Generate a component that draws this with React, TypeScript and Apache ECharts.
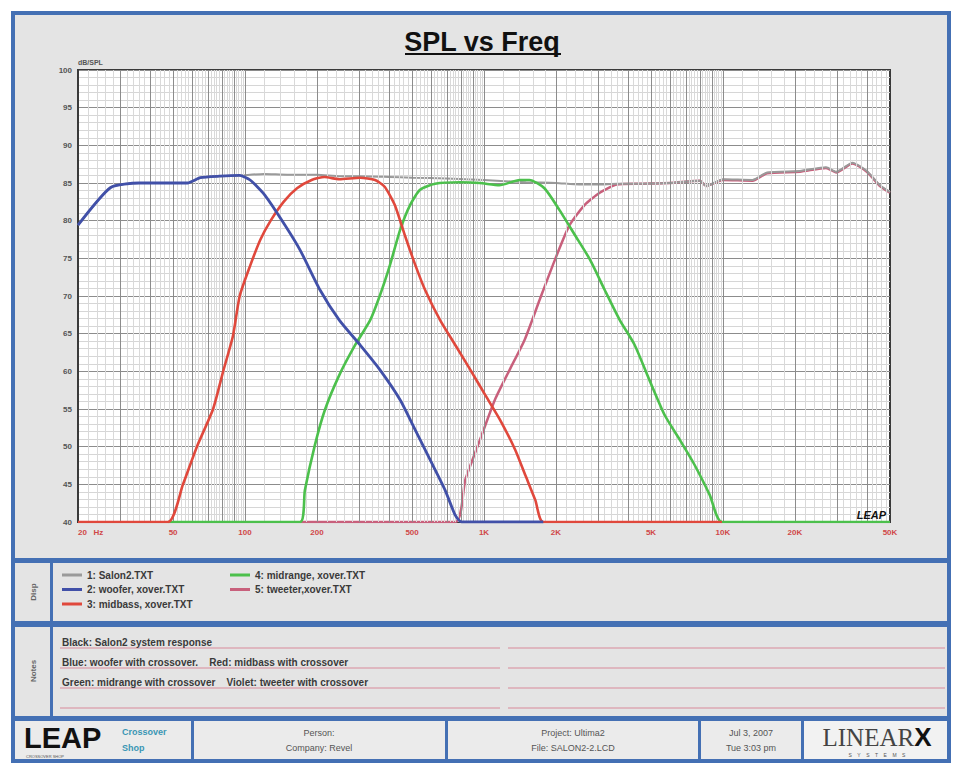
import React, { useEffect, useRef } from 'react';
import * as echarts from 'echarts';

// ---------- data ----------
const X_MIN = 20;
const X_MAX = 50000;
const Y_MIN = 40;
const Y_MAX = 100;
const X_LABEL_VALUES = [20, 50, 100, 200, 500, 1000, 2000, 5000, 10000, 20000, 50000];
const X_LABEL_TEXTS = ['20   Hz', '50', '100', '200', '500', '1K', '2K', '5K', '10K', '20K', '50K'];

const NAMES = ['1: Salon2.TXT', '2: woofer, xover.TXT', '3: midbass, xover.TXT', '4: midrange, xover.TXT', '5: tweeter,xover.TXT'];
const COLORS = ['#9a9a9a', '#4150a8', '#e0483c', '#4cc04c', '#c8607c'];

const SYS_F = [20, 27.4, 36, 57.5, 65, 78, 95, 120, 150, 200, 250, 300, 400, 500, 700, 1000, 1500, 2000, 2500, 3000, 3600, 4500, 6000, 8000, 8500, 10000, 13300, 15300, 21000, 27000, 29800, 34800, 40000, 45400, 50000];
const SYS_DB = [79.4, 84.4, 85.0, 85.0, 85.7, 85.9, 86.0, 86.2, 86.1, 86.1, 85.9, 85.9, 85.8, 85.7, 85.6, 85.4, 85.1, 85.0, 84.8, 84.8, 84.9, 84.9, 85.0, 85.3, 84.6, 85.5, 85.4, 86.4, 86.6, 87.1, 86.5, 87.7, 86.6, 84.7, 83.8];

const WOOF_F = [20, 27.4, 36, 57.5, 65, 78, 95, 105, 121, 147, 170, 206, 248, 303, 367, 446, 516, 596, 688, 758, 805, 1770];
const WOOF_DB = [79.4, 84.4, 85.0, 85.0, 85.7, 85.9, 86.0, 85.4, 83.4, 79.4, 76.1, 70.8, 66.8, 63.5, 60.2, 56.2, 52.2, 48.2, 44.2, 40.9, 40, 40];

const MIDB_F = [20, 47.6, 55, 62.9, 73.5, 81, 89, 95, 105, 116, 128, 145, 165, 190, 215, 248, 303, 350, 384, 423, 466, 516, 567, 655, 758, 877, 1010, 1170, 1350, 1490, 1640, 1770, 9900];
const MIDB_DB = [40, 40, 45.0, 50.0, 55.0, 60.0, 64.7, 70.0, 74.0, 77.5, 80.0, 82.5, 84.3, 85.4, 85.8, 85.5, 85.7, 85.4, 84.5, 82.1, 78.1, 74.1, 70.8, 66.8, 63.5, 60.2, 56.9, 53.5, 49.6, 46.2, 42.9, 40, 40];

const MIDR_F = [47.6, 170, 178, 196, 216, 248, 289, 334, 367, 404, 446, 491, 540, 624, 794, 960, 1160, 1410, 1550, 1790, 2070, 2400, 2780, 3200, 3700, 4270, 4930, 5700, 6600, 7600, 8800, 9900, 50000];
const MIDR_DB = [40, 40, 44.2, 50.2, 54.9, 59.5, 63.5, 66.8, 70.1, 74.1, 78.8, 82.1, 84.1, 84.9, 85.1, 85.0, 84.7, 85.4, 85.4, 84.3, 81.4, 78.1, 74.8, 70.8, 66.8, 63.5, 58.8, 54.2, 50.9, 47.6, 43.6, 40, 40];

const TWEET_F = [170, 758, 835, 962, 1110, 1280, 1480, 1710, 1980, 2280, 2640, 3050, 3600, 4500, 6000, 8000, 8500, 10000, 13300, 15300, 21000, 27000, 29800, 34800, 40000, 45400, 50000];
const TWEET_DB = [40, 40, 45.6, 50.9, 56.2, 60.2, 64.2, 69.5, 74.8, 79.4, 82.1, 83.7, 84.8, 84.9, 85.0, 85.3, 84.6, 85.4, 85.3, 86.3, 86.5, 87.0, 86.4, 87.6, 86.5, 84.6, 83.7];

const NOTES = [
  'Black: Salon2 system response',
  'Blue: woofer with crossover.    Red: midbass with crossover',
  'Green: midrange with crossover    Violet: tweeter with crossover',
];

const zip = (f: number[], d: number[]) => f.map((v, i) => [v, d[i]]);

// ---------- grid line positions (structure of the log grid) ----------
const majorF: number[] = [];
const minorF: number[] = [];
[10, 100, 1000, 10000].forEach((d) => {
  for (let k = 1; k <= 9; k++) {
    const v = k * d;
    if (v > X_MIN && v < X_MAX) majorF.push(v);
    for (let j = 1; j <= 4; j++) {
      const m = k * d + (j * d) / 5;
      if (m > X_MIN && m < X_MAX) minorF.push(m);
    }
  }
});

const BLUE = '#4470b4';
const PANEL = '#e4e4e4';
const FONT = '"Liberation Sans", Arial, sans-serif';

export default function App() {
  const ref = useRef<HTMLDivElement>(null);
  useEffect(() => {
    const chart = echarts.init(ref.current!, undefined, { renderer: 'svg' });

    const bg = (x: number, y: number, w: number, h: number, fill: string) => ({
      type: 'rect', z: -100, silent: true, shape: { x, y, width: w, height: h }, style: { fill },
    });
    const txt = (x: number, y: number, text: string, opts: any = {}) => ({
      type: 'text', z: 100, silent: true, x, y, rotation: opts.rotation || 0,
      style: {
        text, fill: opts.fill || '#3a3a3a', font: opts.font || `bold 10px ${FONT}`,
        textAlign: opts.align || 'left', textVerticalAlign: 'middle',
        rich: opts.rich,
      },
    });
    const hline = (x1: number, x2: number, y: number, stroke: string, w = 1) => ({
      type: 'line', z: 50, silent: true, shape: { x1, y1: y, x2, y2: y }, style: { stroke, lineWidth: w },
    });

    const graphics: any[] = [
      bg(11, 11, 940, 752, BLUE),
      bg(15, 15, 932, 543, PANEL),
      bg(15, 563, 35, 58, PANEL),
      bg(53, 563, 894, 58, PANEL),
      bg(15, 627, 35, 89, PANEL),
      bg(53, 627, 894, 89, PANEL),
      bg(15, 721, 176, 38, '#ebebeb'),
      bg(194, 721, 251, 38, '#ebebeb'),
      bg(448, 721, 250, 38, '#ebebeb'),
      bg(701, 721, 100, 38, '#ebebeb'),
      bg(804, 721, 143, 38, '#f2f2f2'),
      // title underline
      hline(405, 561, 54, '#111', 2),
      // notes lines
      ...[648, 668, 688, 708].flatMap((y) => [hline(60, 500, y, '#d88a9a', 1.2), hline(508, 945, y, '#d88a9a', 1.2)]),
      ...NOTES.map((t, i) => txt(62, 642 + i * 20, t, { font: `bold 10px ${FONT}`, fill: '#3a3a3a' })),
      txt(33, 592, 'Disp', { rotation: Math.PI / 2, align: 'center', font: `bold 8px ${FONT}`, fill: '#666' }),
      txt(33, 671, 'Notes', { rotation: Math.PI / 2, align: 'center', font: `bold 8px ${FONT}`, fill: '#666' }),
      // footer
      txt(24, 738, 'LEAP', { font: `bold 29px ${FONT}`, fill: '#111' }),
      txt(26, 756, 'CROSSOVER SHOP', { font: `4px ${FONT}`, fill: '#555' }),
      txt(122, 732, 'Crossover', { font: `bold 9px ${FONT}`, fill: '#3a96b4' }),
      txt(122, 748, 'Shop', { font: `bold 9px ${FONT}`, fill: '#3a96b4' }),
      txt(319, 733, 'Person:', { align: 'center', font: `9px ${FONT}`, fill: '#555' }),
      txt(319, 748, 'Company: Revel', { align: 'center', font: `9px ${FONT}`, fill: '#555' }),
      txt(573, 733, 'Project: Ultima2', { align: 'center', font: `9px ${FONT}`, fill: '#555' }),
      txt(573, 748, 'File: SALON2-2.LCD', { align: 'center', font: `9px ${FONT}`, fill: '#555' }),
      txt(751, 733, 'Jul 3, 2007', { align: 'center', font: `9px ${FONT}`, fill: '#555' }),
      txt(751, 748, 'Tue 3:03 pm', { align: 'center', font: `9px ${FONT}`, fill: '#555' }),
      txt(877, 737, '{a|LINEAR}{b|X}', {
        align: 'center',
        rich: {
          a: { font: `25px "Liberation Serif", serif`, fill: '#444', color: '#444' },
          b: { font: `bold 26px ${FONT}`, fill: '#111', color: '#111' },
        },
      }),
      txt(877, 755, 'S    Y    S    T    E    M    S', { align: 'center', font: `5px ${FONT}`, fill: '#555' }),
      // LEAP mark inside the plot
      txt(886, 515, 'LEAP', { align: 'right', font: `italic bold 11px ${FONT}`, fill: '#111' }),
    ];

    const curve = (i: number, f: number[], d: number[], width: number, z: number) => ({
      name: NAMES[i],
      type: 'line',
      data: zip(f, d),
      showSymbol: false,
      symbol: 'none',
      smooth: 0.2,
      z,
      lineStyle: { color: COLORS[i], width },
      itemStyle: { color: COLORS[i] },
      silent: true,
    });

    const legendText = { fontSize: 10, fontWeight: 'bold', color: '#3a3a3a', fontFamily: FONT, lineHeight: 12 };

    chart.setOption({
      animation: false,
      title: {
        text: 'SPL vs Freq', left: 477, top: 23, textAlign: 'center',
        textStyle: { fontSize: 27, fontWeight: 'bold', fontFamily: FONT, color: '#111' },
      },
      legend: [
        { data: NAMES.slice(0, 3), left: 62, top: 569, orient: 'vertical', itemWidth: 20, itemHeight: 3, itemGap: 2.5, icon: 'rect', selectedMode: false, textStyle: legendText, padding: 0 },
        { data: NAMES.slice(3), left: 230, top: 569, orient: 'vertical', itemWidth: 20, itemHeight: 3, itemGap: 2.5, icon: 'rect', selectedMode: false, textStyle: legendText, padding: 0 },
      ],
      grid: { left: 78, right: 68, top: 70, bottom: 246, show: true, backgroundColor: '#ffffff', borderColor: '#3a3a3a', borderWidth: 2 },
      xAxis: {
        type: 'log', logBase: 10, min: X_MIN, max: X_MAX,
        axisLine: { show: true, lineStyle: { color: '#3a3a3a', width: 2 } },
        axisTick: { show: false },
        splitLine: { show: false },
        axisLabel: {
          customValues: X_LABEL_VALUES,
          formatter: (v: number) => X_LABEL_TEXTS[X_LABEL_VALUES.indexOf(Math.round(v))] ?? '',
          color: '#d04848', fontSize: 8, fontWeight: 'bold', fontFamily: FONT, margin: 6,
          alignMinLabel: 'left', showMinLabel: true, showMaxLabel: true,
        },
      },
      yAxis: {
        type: 'value', min: Y_MIN, max: Y_MAX, interval: 5,
        name: 'dB/SPL', nameLocation: 'end', nameGap: 4,
        nameTextStyle: { align: 'left', fontSize: 7, fontWeight: 'bold', color: '#555', fontFamily: FONT },
        axisLine: { show: true, lineStyle: { color: '#3a3a3a', width: 2 } },
        axisTick: { show: false },
        axisLabel: { color: '#555', fontSize: 8, fontWeight: 'bold', fontFamily: FONT, margin: 6 },
        splitLine: { show: true, lineStyle: { color: '#8c8c8c', width: 1 } },
        minorTick: { show: false, splitNumber: 5 },
        minorSplitLine: { show: true, lineStyle: { color: '#d6d6d6', width: 1 } },
      },
      graphic: { elements: graphics },
      series: [
        {
          name: 'grid', type: 'line', data: [[X_MIN, Y_MIN]], symbol: 'none', silent: true, z: 1,
          lineStyle: { opacity: 0 },
          markLine: {
            silent: true, symbol: ['none', 'none'], label: { show: false }, animation: false,
            data: [
              ...minorF.map((v) => ({ xAxis: v, lineStyle: { color: '#d9d9d9', width: 1, type: 'solid' } })),
              ...majorF.map((v) => ({ xAxis: v, lineStyle: { color: '#8c8c8c', width: 1, type: 'solid' } })),
            ],
          },
        },
        curve(4, TWEET_F, TWEET_DB, 2.5, 3),
        curve(0, SYS_F, SYS_DB, 2, 4),
        curve(3, MIDR_F, MIDR_DB, 2.6, 5),
        curve(2, MIDB_F, MIDB_DB, 2.6, 6),
        curve(1, WOOF_F, WOOF_DB, 2.8, 7),
      ],
    });
    return () => chart.dispose();
  }, []);
  return <div ref={ref} style={{ position: 'fixed', left: 0, top: 0, width: 958, height: 768, background: '#ffffff' }} />;
}
